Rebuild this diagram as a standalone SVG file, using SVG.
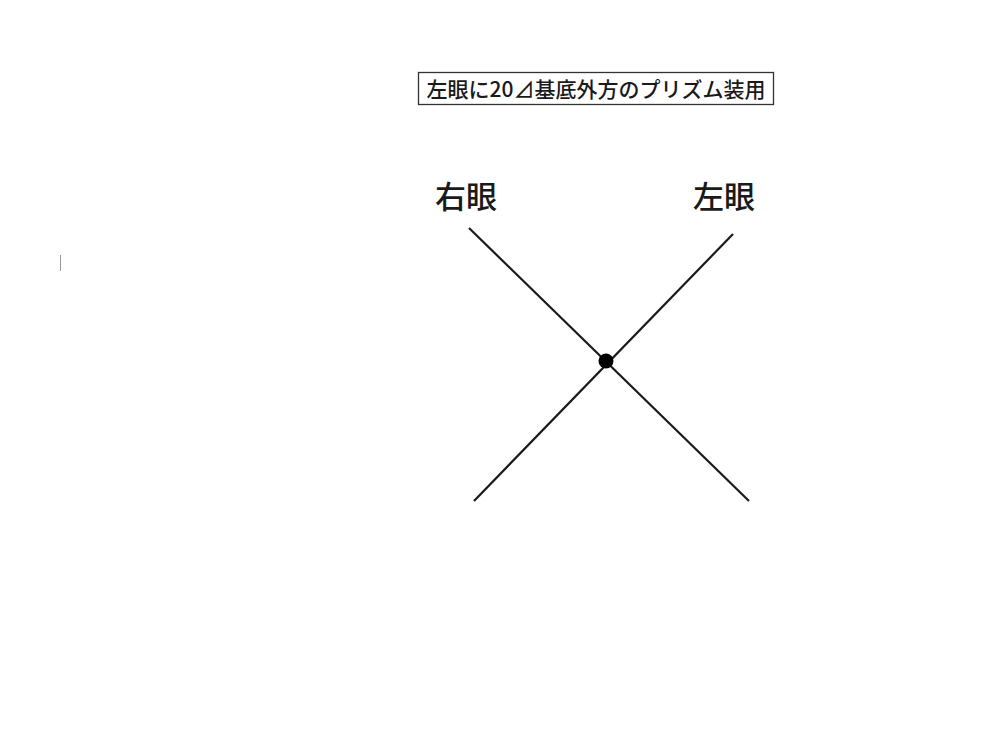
<svg xmlns="http://www.w3.org/2000/svg" width="1000" height="731" viewBox="0 0 1000 731">
<style>
.t{font-family:"Noto Sans CJK JP","Noto Sans CJK SC",sans-serif;fill:#1a1a1a;font-weight:500}
.ln{stroke:#1a1a1a;stroke-width:2.2;fill:none}
</style>
<rect width="1000" height="731" fill="#fff"/>
<g id="title">
<rect x="418.5" y="72.5" width="355" height="32" fill="#fff" stroke="#333" stroke-width="1.3"/>
<text class="t" x="596" y="97" font-size="21" text-anchor="middle">左眼に20⊿基底外方のプリズム装用</text>
</g>
<g id="mark">
<line x1="60.5" y1="255" x2="60.5" y2="271" stroke="#999" stroke-width="1"/>
</g>
<g id="connectors">
<line class="ln" x1="469" y1="228" x2="749" y2="501"/>
<line class="ln" x1="733" y1="234" x2="474" y2="501"/>
</g>
<g id="right-eye">
<text class="t" x="466" y="208" font-size="31" text-anchor="middle">右眼</text>
</g>
<g id="left-eye">
<text class="t" x="724" y="208" font-size="31" text-anchor="middle">左眼</text>
</g>
<g id="center">
<circle cx="606" cy="361" r="7.5" fill="#000"/>
</g>
</svg>
